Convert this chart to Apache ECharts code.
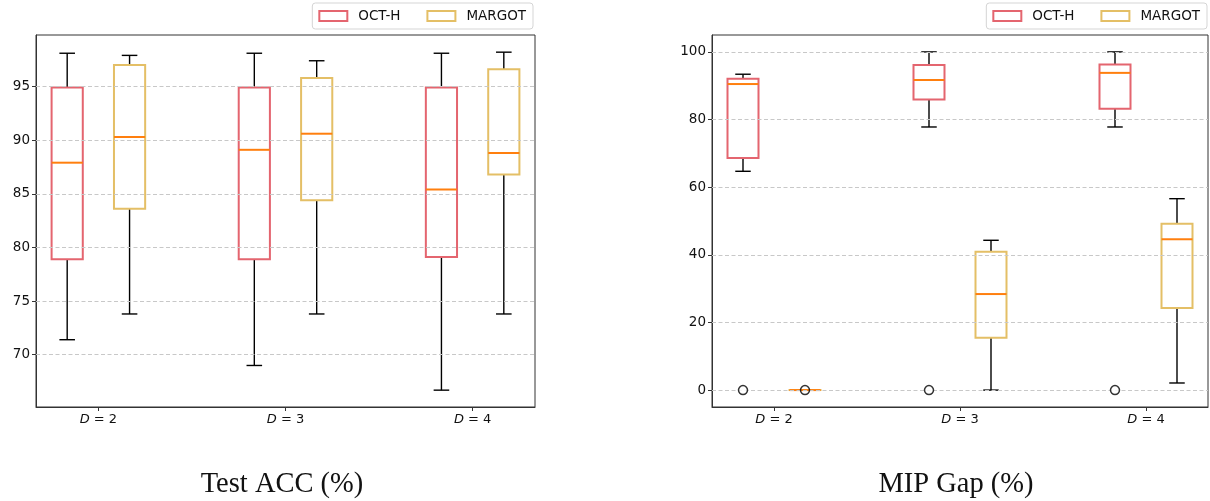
<!DOCTYPE html>
<html>
<head>
<meta charset="utf-8">
<script src="https://cdn.jsdelivr.net/npm/echarts@6/dist/echarts.min.js"></script>
<style>
html,body{margin:0;padding:0;background:#fff;}
#c{width:1210px;height:501px;}
</style>
</head>
<body>
<div id="c"></div>
<script>
// ---- data ----
const positions = [1, 2, 3];
const tickLabels = ['2', '3', '4']; // D = 2, D = 3, D = 4
const seriesNames = ['OCT-H', 'MARGOT'];
// [min, Q1, median, Q3, max]
const accOCTH   = [[71.4, 78.9, 87.9, 94.9, 98.1], [69.0, 78.9, 89.1, 94.9, 98.1], [66.7, 79.1, 85.4, 94.9, 98.1]];
const accMARGOT = [[73.8, 83.6, 90.3, 97.0, 97.9], [73.8, 84.4, 90.6, 95.8, 97.4], [73.8, 86.8, 88.8, 96.6, 98.2]];
const gapOCTH   = [[64.7, 68.6, 90.5, 92.1, 93.4], [77.8, 85.9, 91.7, 96.1, 100], [77.8, 83.2, 93.8, 96.3, 100]];
const gapMARGOT = [[0, 0, 0, 0, 0], [0, 15.5, 28.4, 40.9, 44.3], [2.1, 24.3, 44.6, 49.2, 56.6]];
// outliers: [position, value]
const gapOCTHOutliers = [[1, 0], [2, 0], [3, 0]];
const gapMARGOTOutliers = [[1, 0]];
const accTicks = [70, 75, 80, 85, 90, 95];
const gapTicks = [0, 20, 40, 60, 80, 100];
const panelTitles = ['Test ACC (%)', 'MIP Gap (%)'];

// ---- style ----
const RED = '#e4656f';
const YEL = '#e4bf66';
const MED = '#ff7f0e';
const OFF = 1 / 6;
const BW = 1 / 6;

function renderBox(offset, color) {
  return function (params, api) {
    const x = api.value(0) + offset;
    const lo = api.value(1), q1 = api.value(2), md = api.value(3), q3 = api.value(4), hi = api.value(5);
    const w = api.size([BW, 0])[0];
    const cx = api.coord([x, md])[0];
    const Y = v => api.coord([x, v])[1];
    const blk = {stroke: '#000', lineWidth: 1.4};
    return {
      type: 'group',
      children: [
        {type: 'line', shape: {x1: cx, y1: Y(hi), x2: cx, y2: Y(q3)}, style: blk},
        {type: 'line', shape: {x1: cx, y1: Y(lo), x2: cx, y2: Y(q1)}, style: blk},
        {type: 'line', shape: {x1: cx - w / 4, y1: Y(hi), x2: cx + w / 4, y2: Y(hi)}, style: blk},
        {type: 'line', shape: {x1: cx - w / 4, y1: Y(lo), x2: cx + w / 4, y2: Y(lo)}, style: blk},
        {type: 'rect', shape: {x: cx - w / 2, y: Y(q3), width: w, height: Math.max(Y(q1) - Y(q3), 0.01)},
          style: {fill: 'none', stroke: color, lineWidth: 2}},
        {type: 'line', shape: {x1: cx - w / 2, y1: Y(md), x2: cx + w / 2, y2: Y(md)},
          style: {stroke: MED, lineWidth: 2}}
      ]
    };
  };
}

function boxData(arr) {
  return arr.map((v, i) => [positions[i]].concat(v));
}

const grids = [
  {left: 36, right: 675, top: 35, bottom: 94},
  {left: 712, right: 2, top: 35, bottom: 94}
];
const yRanges = [[65.13, 99.8], [-5, 105]];
const yTicks = [accTicks, gapTicks];

const xAxes = grids.map((g, i) => ({
  type: 'value', gridIndex: i, min: 2 / 3, max: 10 / 3,
  axisLine: {show: true, onZero: false, lineStyle: {color: '#333', width: 1}},
  axisTick: {show: true, customValues: positions, length: 4, lineStyle: {color: '#333'}},
  splitLine: {show: false},
  axisLabel: {
    customValues: positions, margin: 6,
    formatter: v => '{i|D}{n| = ' + tickLabels[positions.indexOf(v)] + '}',
    rich: {
      i: {fontFamily: 'DejaVu Sans', fontStyle: 'italic', fontSize: 13, color: '#111'},
      n: {fontFamily: 'DejaVu Sans', fontSize: 13, color: '#111'}
    }
  }
}));

const yAxes = grids.map((g, i) => ({
  type: 'value', gridIndex: i, min: yRanges[i][0], max: yRanges[i][1],
  splitNumber: 5,
  axisLine: {show: true, lineStyle: {color: '#333', width: 1}},
  axisTick: {show: true, customValues: yTicks[i], length: 4, lineStyle: {color: '#333'}},
  axisLabel: {customValues: yTicks[i], margin: 6, fontFamily: 'DejaVu Sans', fontSize: 13.5, color: '#111'},
  splitLine: {show: false}
}));

function gridLines(ticks) {
  return {
    silent: true, symbol: 'none', label: {show: false},
    lineStyle: {type: [4, 2.5], color: '#c8c8c8', width: 1},
    data: ticks.map(t => ({yAxis: t}))
  };
}

const series = [];
const boxSets = [[accOCTH, accMARGOT], [gapOCTH, gapMARGOT]];
boxSets.forEach((pair, gi) => {
  pair.forEach((arr, si) => {
    const s = {
      type: 'custom', name: seriesNames[si], xAxisIndex: gi, yAxisIndex: gi,
      renderItem: renderBox(si === 0 ? -OFF : OFF, si === 0 ? RED : YEL),
      data: boxData(arr), encode: {x: 0, y: [1, 2, 3, 4, 5]},
      itemStyle: {color: si === 0 ? RED : YEL}, z: 3
    };
    if (si === 0) s.markLine = gridLines(yTicks[gi]);
    series.push(s);
  });
});
series.push({
  type: 'scatter', name: 'outOCT', xAxisIndex: 1, yAxisIndex: 1,
  data: gapOCTHOutliers.map(p => [p[0] - OFF, p[1]]),
  symbol: 'circle', symbolSize: 9,
  itemStyle: {color: '#fff', borderColor: '#000', borderWidth: 1.5}, z: 5
});
series.push({
  type: 'scatter', name: 'outMAR', xAxisIndex: 1, yAxisIndex: 1,
  data: gapMARGOTOutliers.map(p => [p[0] + OFF, p[1]]),
  symbol: 'circle', symbolSize: 9,
  itemStyle: {color: 'rgba(0,0,0,0)', borderColor: '#000', borderWidth: 1.5}, z: 5
});

const legendData = [
  {name: 'OCT-H', icon: 'rect', itemStyle: {color: 'rgba(0,0,0,0)', borderColor: RED, borderWidth: 2}},
  {name: 'MARGOT', icon: 'rect', itemStyle: {color: 'rgba(0,0,0,0)', borderColor: YEL, borderWidth: 2}}
];
const legendBase = {
  top: 3, orient: 'horizontal', data: legendData,
  itemWidth: 28, itemHeight: 10, itemGap: 26,
  borderColor: '#d5d5d5', borderWidth: 1, borderRadius: 3,
  padding: [6, 7, 6, 6], selectedMode: false,
  textStyle: {fontFamily: 'DejaVu Sans', fontSize: 13.5, color: '#111', padding: [0, 0, 0, 6]}
};

const chart = echarts.init(document.getElementById('c'), null, {renderer: 'canvas'});
chart.setOption({
  backgroundColor: '#fff',
  animation: false,
  grid: grids.map(g => Object.assign({show: true, borderColor: '#333', borderWidth: 1, backgroundColor: 'transparent'}, g)),
  xAxis: xAxes,
  yAxis: yAxes,
  legend: [
    Object.assign({}, legendBase, {right: 677}),
    Object.assign({}, legendBase, {right: 3})
  ],
  title: [
    {text: panelTitles[0], left: 277, top: 465, textAlign: 'center',
      textStyle: {fontFamily: 'Liberation Serif', fontWeight: 'normal', fontSize: 28.5, color: '#111'}},
    {text: panelTitles[1], left: 951, top: 465, textAlign: 'center',
      textStyle: {fontFamily: 'Liberation Serif', fontWeight: 'normal', fontSize: 28.5, color: '#111'}}
  ],
  series: series
});
</script>
</body>
</html>
